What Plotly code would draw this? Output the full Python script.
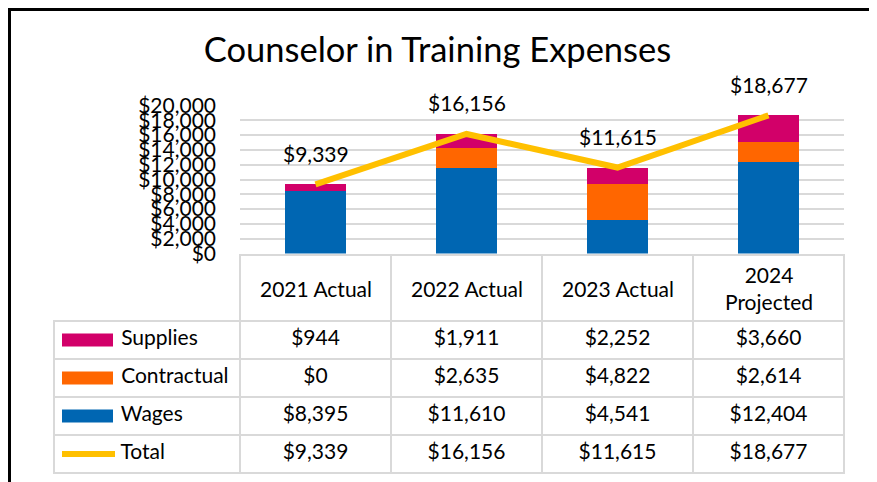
import plotly.graph_objects as go

# ---- data ----
categories = ["2021 Actual", "2022 Actual", "2023 Actual", "2024 Projected"]
header_labels = ["2021 Actual", "2022 Actual", "2023 Actual", "2024<br>Projected"]
wages = [8395, 11610, 4541, 12404]
contractual = [0, 2635, 4822, 2614]
supplies = [944, 1911, 2252, 3660]
total = [9339, 16156, 11615, 18677]
series_names = ["Supplies", "Contractual", "Wages", "Total"]

# ---- style ----
OFF = 8            # page body margin
W, H = 877 - OFF, 482 - OFF
FONT = "Lato"
C_SUP = "#D20069"
C_CON = "#FF6600"
C_WAG = "#0066B2"
C_TOT = "#FFC000"
GRID = "#D9D9D9"

def px(x):
    return (x - OFF) / W

def py(y):
    return 1 - (y - OFF) / H

fig = go.Figure()

fig.add_trace(go.Bar(x=categories, y=wages, name="Wages", marker_color=C_WAG,
                     marker_line_width=0))
fig.add_trace(go.Bar(x=categories, y=contractual, name="Contractual", marker_color=C_CON,
                     marker_line_width=0))
fig.add_trace(go.Bar(x=categories, y=supplies, name="Supplies", marker_color=C_SUP,
                     marker_line_width=0))
fig.add_trace(go.Scatter(x=categories, y=total, name="Total", mode="lines",
                         line=dict(color=C_TOT, width=6)))

# data labels for total
for c, t in zip(categories, total):
    fig.add_annotation(x=c, y=t, xref="x", yref="y", text=f"${t:,}", showarrow=False,
                       yshift=31, font=dict(family=FONT, size=21, color="black"))

# data table
def fmt(v):
    return f"${v:,}"

nbsp = "\u00a0" * 11
name_col = [nbsp + n for n in series_names]
value_cols = []
for i in range(len(categories)):
    value_cols.append([fmt(supplies[i]), fmt(contractual[i]), fmt(wages[i]), fmt(total[i])])

CLEAR = "rgba(0,0,0,0)"
fig.add_trace(go.Table(
    domain=dict(x=[px(54), px(844)], y=[py(481), py(255)]),
    columnwidth=[186, 151, 151, 151, 151],
    header=dict(values=[""] * 5,
                fill_color=[CLEAR] + ["white"] * 4,
                line=dict(color=[CLEAR] + [GRID] * 4, width=2),
                align="center", height=66,
                font=dict(family=FONT, size=21, color="black")),
    cells=dict(values=[name_col] + value_cols,
               fill_color="white",
               line=dict(color=GRID, width=2),
               align=["left"] + ["center"] * 4, height=38,
               font=dict(family=FONT, size=21, color="black")),
))

# header labels of the table, placed on the category axis
for c, lab in zip(categories, header_labels):
    fig.add_annotation(x=c, xref="x", y=py(288), yref="paper", text=lab,
                       showarrow=False, yanchor="middle",
                       font=dict(family=FONT, size=21, color="black"))

# legend keys in the table
row_centers = [340, 378, 416, 454]
key_colors = [C_SUP, C_CON, C_WAG]
for yc, col in zip(row_centers[:3], key_colors):
    fig.add_shape(type="rect", xref="paper", yref="paper",
                  x0=px(62), x1=px(113), y0=py(yc + 6.5), y1=py(yc - 6.5),
                  fillcolor=col, line_width=0)
fig.add_shape(type="line", xref="paper", yref="paper",
              x0=px(62), x1=px(115), y0=py(row_centers[3]), y1=py(row_centers[3]),
              line=dict(color=C_TOT, width=6))

# outer frame
fig.add_shape(type="rect", xref="paper", yref="paper",
              x0=px(9.5), x1=px(872.5), y0=py(500), y1=py(9.5),
              line=dict(color="black", width=3), fillcolor="rgba(0,0,0,0)")

fig.update_layout(
    width=W, height=H,
    margin=dict(l=0, r=0, t=0, b=0),
    paper_bgcolor="white", plot_bgcolor="white",
    barmode="stack", bargap=0.6,
    showlegend=False,
    title=dict(text="Counselor in Training Expenses", x=px(437.5), xanchor="center",
               y=py(50), yanchor="middle",
               font=dict(family=FONT, size=34.5, color="black")),
    font=dict(family=FONT, color="black"),
    xaxis=dict(domain=[px(240), px(844)], showticklabels=False, showgrid=False,
               zeroline=False, showline=False, automargin=False),
    yaxis=dict(domain=[py(253.5), py(105.5)], range=[0, 20000], dtick=2000,
               tickprefix="$", tickformat=",d", showgrid=True, gridcolor=GRID,
               gridwidth=2, zeroline=False, showline=False, automargin=False,
               ticklabelstandoff=23,
               tickfont=dict(family=FONT, size=21, color="black")),
)

fig.write_html("out.html")
